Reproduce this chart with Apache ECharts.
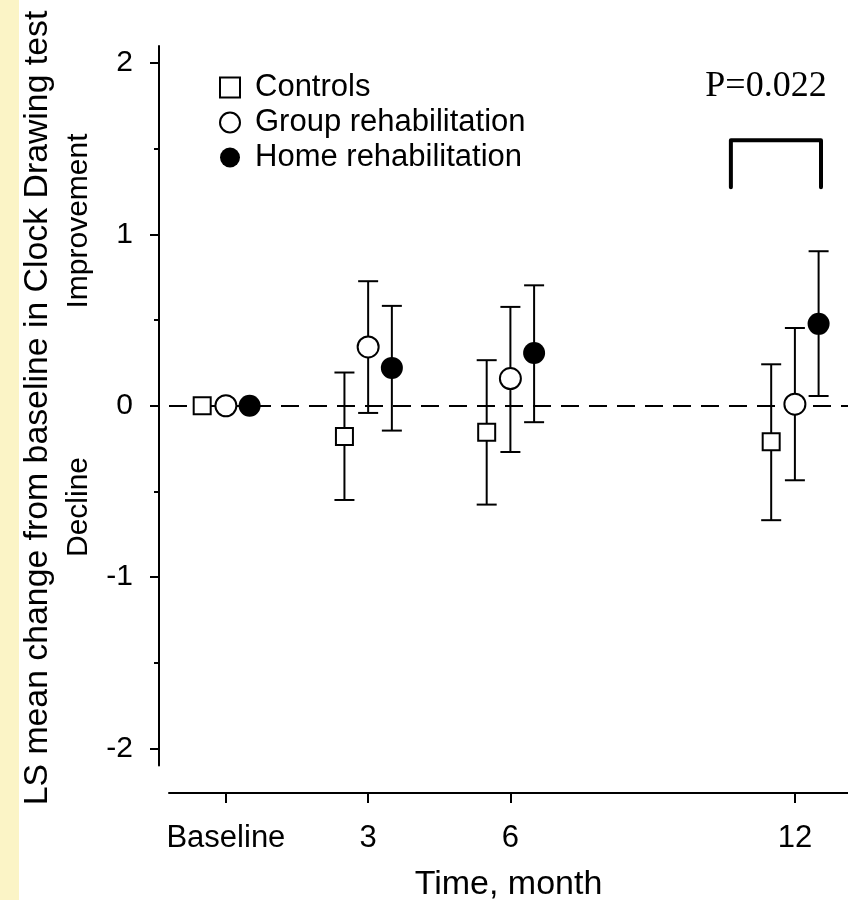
<!DOCTYPE html>
<html>
<head>
<meta charset="utf-8">
<script src="https://cdn.jsdelivr.net/npm/echarts@6/dist/echarts.min.js"></script>
<style>
  html, body { margin: 0; padding: 0; background: #fff; }
  #chart { width: 848px; height: 900px; }
</style>
</head>
<body>
<div id="chart"></div>
<script>
// time points (months) and tick labels
var months = [0, 3, 6, 12];
var monthLabels = ['Baseline', '3', '6', '12'];
var yTicks = [-2, -1, 0, 1, 2];
var yMinorTicks = [-1.5, -0.5, 0.5, 1.5];

// LS mean change and 95% CI per group
var controlsMean = [0, -0.18, -0.155, -0.21];
var controlsLow = [null, -0.55, -0.577, -0.668];
var controlsHigh = [null, 0.194, 0.266, 0.242];

var groupMean = [0, 0.343, 0.159, 0.009];
var groupLow = [null, -0.042, -0.27, -0.435];
var groupHigh = [null, 0.727, 0.577, 0.454];

var homeMean = [0, 0.221, 0.308, 0.478];
var homeLow = [null, -0.145, -0.096, 0.057];
var homeHigh = [null, 0.583, 0.703, 0.902];

// significance bracket between groups at 12 months
var bracketX = [10.65, 10.65, 12.55, 12.55];
var bracketY = [1.275, 1.55, 1.55, 1.275];
var pText = 'P=0.022';

var font = "'Liberation Sans', Arial, sans-serif";
var chart = echarts.init(document.getElementById('chart'));

function pts(mean, shift) {
  return months.map(function (m, i) { return [m + shift, mean[i]]; });
}
function bars(low, high, shift) {
  var out = [];
  months.forEach(function (m, i) {
    if (low[i] != null) out.push([m + shift, low[i], high[i]]);
  });
  return out;
}
function errorBar(params, api) {
  var x = api.value(0);
  var lo = api.coord([x, api.value(1)]);
  var hi = api.coord([x, api.value(2)]);
  var w = 10;
  var st = { stroke: '#000', lineWidth: 2 };
  return {
    type: 'group',
    children: [
      { type: 'line', shape: { x1: lo[0], y1: lo[1], x2: hi[0], y2: hi[1] }, style: st },
      { type: 'line', shape: { x1: lo[0] - w, y1: lo[1], x2: lo[0] + w, y2: lo[1] }, style: st },
      { type: 'line', shape: { x1: hi[0] - w, y1: hi[1], x2: hi[0] + w, y2: hi[1] }, style: st }
    ]
  };
}

var option = {
  animation: false,
  backgroundColor: '#fff',
  grid: { left: 169, right: 0, top: 46, bottom: 134.5, containLabel: false, outerBoundsMode: 'none' },
  legend: {
    orient: 'vertical',
    left: 219,
    top: 72,
    padding: 0,
    itemGap: 4,
    itemWidth: 20,
    itemHeight: 20,
    textStyle: { fontFamily: font, fontSize: 31, color: '#000', lineHeight: 31, padding: [0, 0, 0, 10] },
    data: ['Controls', 'Group rehabilitation', 'Home rehabilitation']
  },
  xAxis: {
    type: 'value',
    min: -1.2,
    max: 13.12,
    offset: 27.5,
    splitLine: { show: false },
    axisLine: { show: true, onZero: false, lineStyle: { color: '#000', width: 2 } },
    axisTick: { show: true, customValues: months, length: 10, lineStyle: { color: '#000', width: 2 } },
    axisLabel: {
      customValues: months,
      margin: 30,
      fontFamily: font, fontSize: 31, color: '#000',
      formatter: function (v) { return monthLabels[months.indexOf(v)]; }
    },
    name: 'Time, month',
    nameLocation: 'middle',
    nameGap: 75,
    nameTextStyle: { fontFamily: font, fontSize: 34, color: '#000' }
  },
  yAxis: [{
    type: 'value',
    min: -2.1,
    max: 2.1,
    offset: 10,
    splitLine: { show: false },
    axisLine: { show: true, onZero: false, lineStyle: { color: '#000', width: 2 } },
    axisTick: { show: true, customValues: yTicks, length: 9, lineStyle: { color: '#000', width: 2 } },
    axisLabel: { customValues: yTicks, margin: 26, fontFamily: font, fontSize: 30, color: '#000' }
  }, {
    type: 'value',
    min: -2.1,
    max: 2.1,
    offset: 10,
    position: 'left',
    splitLine: { show: false },
    axisLine: { show: false, onZero: false },
    axisTick: { show: true, customValues: yMinorTicks, length: 5, lineStyle: { color: '#000', width: 2 } },
    axisLabel: { show: false }
  }],
  graphic: [
    { type: 'rect', left: 0, top: 0, shape: { width: 19, height: 900 }, style: { fill: '#FBF4C6' }, z: -1 },
    { type: 'text', x: 38, y: 408, rotation: Math.PI / 2,
      style: { text: 'LS mean change from baseline in Clock Drawing test', fontFamily: font, fontSize: 33.8, fill: '#000', align: 'center', verticalAlign: 'middle' } },
    { type: 'text', x: 79, y: 221, rotation: Math.PI / 2,
      style: { text: 'Improvement', fontFamily: font, fontSize: 30, fill: '#000', align: 'center', verticalAlign: 'middle' } },
    { type: 'text', x: 79, y: 507, rotation: Math.PI / 2,
      style: { text: 'Decline', fontFamily: font, fontSize: 30, fill: '#000', align: 'center', verticalAlign: 'middle' } },
    { type: 'text', x: 766, y: 87,
      style: { text: pText, fontFamily: "'Liberation Serif', 'Times New Roman', serif", fontSize: 36, fill: '#000', align: 'center', verticalAlign: 'middle' } }
  ],
  series: [
    {
      name: 'bracket', type: 'line', silent: true, symbol: 'none', z: 3,
      data: bracketX.map(function (x, i) { return [x, bracketY[i]]; }),
      lineStyle: { color: '#000', width: 4, cap: 'round', join: 'round' }
    },
    { name: 'errControls', type: 'custom', renderItem: errorBar, data: bars(controlsLow, controlsHigh, -0.5), z: 4 },
    { name: 'errGroup', type: 'custom', renderItem: errorBar, data: bars(groupLow, groupHigh, 0), z: 4 },
    { name: 'errHome', type: 'custom', renderItem: errorBar, data: bars(homeLow, homeHigh, 0.5), z: 4 },
    {
      name: 'Controls', type: 'scatter', symbol: 'rect', symbolSize: 17, z: 5,
      itemStyle: { color: '#fff', borderColor: '#000', borderWidth: 2, opacity: 1 },
      data: pts(controlsMean, -0.5),
      markLine: {
        silent: true, symbol: 'none', label: { show: false }, z: 2,
        lineStyle: { color: '#000', width: 2, type: [18, 10] },
        data: [{ yAxis: 0 }]
      }
    },
    {
      name: 'Group rehabilitation', type: 'scatter', symbol: 'circle', symbolSize: 21, z: 5,
      itemStyle: { color: '#fff', borderColor: '#000', borderWidth: 2, opacity: 1 },
      data: pts(groupMean, 0)
    },
    {
      name: 'Home rehabilitation', type: 'scatter', symbol: 'circle', symbolSize: 22, z: 5,
      itemStyle: { color: '#000', borderColor: '#000', borderWidth: 0, opacity: 1 },
      data: pts(homeMean, 0.5)
    }
  ]
};
chart.setOption(option);
</script>
</body>
</html>
